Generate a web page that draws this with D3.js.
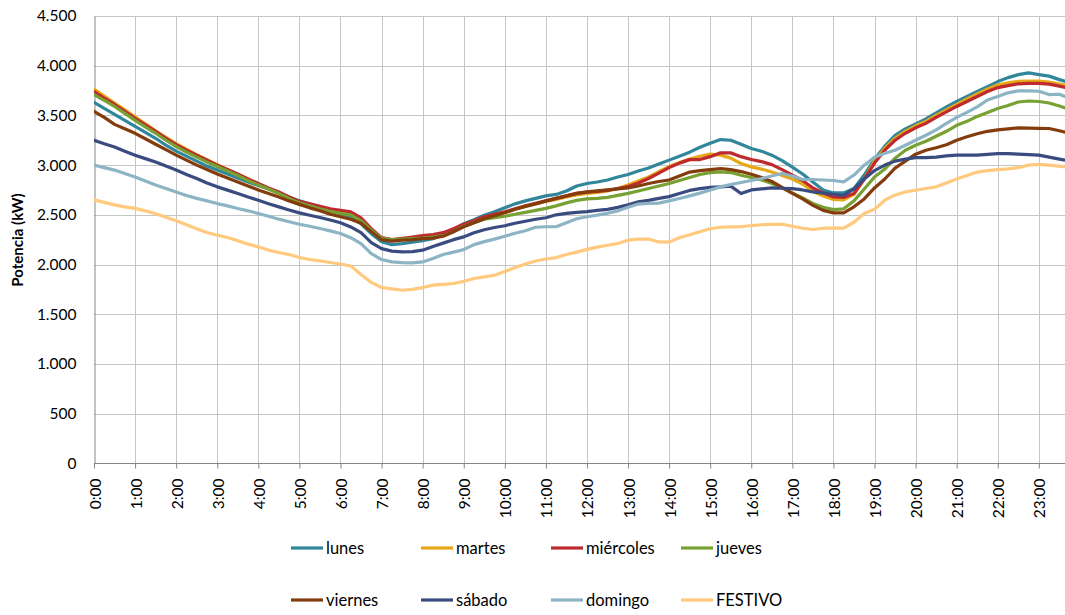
<!DOCTYPE html>
<html>
<head>
<meta charset="utf-8">
<script src="https://cdn.jsdelivr.net/npm/d3@7"></script>
<style>
  html, body { margin: 0; padding: 0; background: #fff; }
  svg { display: block; font-family: Lato, "Open Sans", sans-serif; }
</style>
</head>
<body>
<svg id="chart" width="1065" height="615"></svg>
<script>
// ---- Data (kW, every 15 minutes from 0:00 to 23:45) ----
const seriesNames = ["lunes", "martes", "miércoles", "jueves", "viernes", "sábado", "domingo", "FESTIVO"];
const seriesColors = ["#31869B", "#E6A817", "#BE2A2E", "#77A132", "#843C0C", "#3A4B80", "#8DB4C4", "#FFC97E"];
const hourLabels = ["0:00","1:00","2:00","3:00","4:00","5:00","6:00","7:00","8:00","9:00","10:00","11:00",
  "12:00","13:00","14:00","15:00","16:00","17:00","18:00","19:00","20:00","21:00","22:00","23:00"];
const yTicks = [0, 500, 1000, 1500, 2000, 2500, 3000, 3500, 4000, 4500];

const lunes = [3630,3570,3510,3450,3390,3330,3270,3200,3140,3090,3040,2990,2950,2910,2870,2830,
  2795,2760,2720,2680,2640,2610,2575,2545,2510,2480,2410,2310,2230,2200,2210,2225,
  2240,2260,2300,2350,2410,2450,2495,2530,2570,2610,2640,2665,2690,2705,2740,2790,
  2815,2830,2850,2880,2905,2940,2970,3010,3050,3090,3130,3180,3220,3257,3250,3210,
  3167,3140,3100,3045,2980,2910,2830,2750,2720,2720,2765,2900,3060,3190,3300,3365,
  3415,3465,3525,3585,3640,3690,3740,3790,3840,3880,3910,3928,3910,3895,3860,3830];
const martes = [3765,3695,3625,3555,3485,3415,3345,3280,3215,3160,3105,3055,3005,2955,2905,2860,
  2810,2765,2720,2670,2625,2595,2570,2545,2525,2510,2450,2350,2265,2245,2250,2260,
  2270,2280,2300,2345,2395,2430,2470,2500,2525,2555,2585,2610,2635,2655,2680,2700,
  2715,2725,2740,2765,2800,2840,2880,2935,2985,3025,3060,3089,3110,3100,3070,3016,
  2982,2960,2930,2895,2860,2810,2735,2690,2655,2650,2705,2860,3040,3170,3270,3340,
  3395,3440,3500,3555,3610,3665,3715,3765,3805,3828,3843,3846,3845,3835,3815,3795];
const miercoles = [3740,3675,3610,3540,3470,3405,3340,3270,3205,3150,3100,3050,3000,2955,2910,2860,
  2815,2770,2730,2680,2635,2610,2585,2560,2545,2530,2470,2360,2270,2250,2262,2275,
  2290,2300,2320,2360,2405,2440,2480,2505,2530,2560,2590,2615,2640,2665,2690,2715,
  2728,2735,2745,2765,2785,2820,2865,2920,2975,3020,3055,3056,3085,3123,3123,3085,
  3056,3035,3005,2955,2900,2845,2770,2720,2680,2674,2714,2860,3020,3150,3250,3320,
  3375,3420,3480,3535,3590,3640,3690,3740,3780,3800,3818,3822,3822,3815,3795,3770];
const jueves = [3710,3650,3590,3520,3450,3385,3320,3250,3185,3130,3080,3030,2985,2940,2895,2845,
  2800,2760,2715,2665,2620,2590,2560,2535,2515,2500,2440,2345,2265,2250,2255,2260,
  2265,2275,2290,2330,2385,2420,2455,2470,2485,2505,2525,2545,2565,2590,2620,2645,
  2660,2665,2675,2695,2715,2740,2765,2790,2815,2845,2875,2905,2925,2932,2925,2898,
  2875,2850,2815,2770,2720,2670,2615,2575,2553,2560,2640,2760,2880,2960,3070,3150,
  3200,3240,3290,3340,3400,3440,3490,3530,3570,3600,3635,3645,3640,3625,3595,3560];
const viernes = [3540,3480,3410,3365,3320,3265,3210,3155,3100,3050,3000,2955,2910,2870,2830,2790,
  2750,2715,2680,2640,2605,2570,2540,2505,2480,2455,2415,2330,2250,2235,2245,2250,
  2260,2265,2285,2330,2380,2420,2460,2490,2520,2555,2585,2610,2640,2665,2690,2715,
  2730,2740,2750,2760,2770,2790,2815,2835,2850,2890,2930,2945,2955,2966,2955,2935,
  2908,2875,2835,2775,2715,2660,2595,2545,2519,2519,2580,2660,2770,2860,2970,3040,
  3110,3150,3175,3205,3250,3285,3315,3340,3355,3365,3374,3372,3370,3368,3345,3320];
const sabado = [3250,3215,3183,3140,3100,3065,3032,2990,2950,2905,2865,2820,2781,2748,2714,2680,
  2647,2612,2580,2548,2519,2495,2473,2447,2420,2378,2320,2220,2160,2135,2127,2130,
  2144,2180,2215,2250,2278,2320,2350,2372,2390,2415,2435,2455,2470,2500,2515,2525,
  2532,2545,2555,2575,2600,2630,2645,2665,2683,2715,2745,2764,2775,2781,2788,2714,
  2750,2760,2771,2767,2764,2750,2730,2718,2707,2695,2760,2860,2945,3000,3040,3060,
  3076,3076,3080,3092,3100,3100,3100,3108,3115,3115,3110,3105,3100,3080,3060,3040];
const domingo = [3000,2975,2950,2915,2880,2840,2800,2765,2730,2695,2665,2640,2613,2590,2563,2540,
  2513,2485,2456,2430,2405,2385,2362,2338,2312,2270,2210,2110,2050,2026,2018,2016,
  2026,2060,2100,2125,2150,2200,2230,2255,2285,2315,2340,2375,2380,2380,2420,2460,
  2480,2496,2515,2540,2575,2608,2614,2618,2640,2664,2690,2718,2750,2781,2805,2825,
  2845,2865,2890,2915,2890,2855,2855,2850,2845,2831,2900,2999,3080,3120,3150,3200,
  3250,3300,3355,3420,3480,3530,3586,3655,3690,3727,3747,3747,3743,3710,3713,3670];
const festivo = [2650,2625,2600,2580,2565,2540,2510,2475,2440,2400,2360,2322,2295,2272,2240,2205,
  2177,2145,2121,2100,2070,2050,2036,2020,2005,1985,1900,1820,1769,1755,1741,1750,
  1768,1792,1800,1809,1830,1859,1875,1892,1930,1970,2005,2035,2055,2070,2100,2125,
  2152,2175,2194,2211,2245,2255,2255,2227,2225,2270,2300,2330,2360,2375,2378,2380,
  2392,2400,2403,2405,2385,2365,2352,2365,2365,2365,2425,2513,2555,2647,2700,2730,
  2747,2765,2781,2820,2860,2895,2930,2945,2955,2962,2975,3000,3008,3000,2990,2976];

const seriesValues = [lunes, martes, miercoles, jueves, viernes, sabado, domingo, festivo];
const slotHours = d3.range(96).map(i => i / 4); // 15-minute time slots

// ---- Layout ----
const svg = d3.select("#chart");
const plotLeft = 94, hourStep = 41.08, plotTop = 16, plotBottom = 463.3, plotRight = 1065;

const x = d3.scaleLinear().domain([0, 24]).range([plotLeft, plotLeft + 24 * hourStep]);
const y = d3.scaleLinear().domain([0, 4500]).range([plotBottom, plotTop]);

// clip for plot area (the chart is cut at the right edge)
svg.append("defs").append("clipPath").attr("id", "clip")
  .append("rect").attr("x", plotLeft).attr("y", 0).attr("width", plotRight - plotLeft).attr("height", plotBottom + 1);

// horizontal gridlines
svg.append("g").selectAll("line").data(yTicks.filter(d => d > 0)).join("line")
  .attr("x1", plotLeft).attr("x2", plotRight)
  .attr("y1", d => Math.round(y(d)) + 0.5).attr("y2", d => Math.round(y(d)) + 0.5)
  .attr("stroke", "#c6c6c6").attr("stroke-width", 1);

// vertical gridlines at every hour
svg.append("g").selectAll("line").data(d3.range(1, 24)).join("line")
  .attr("x1", d => Math.round(x(d)) + 0.5).attr("x2", d => Math.round(x(d)) + 0.5)
  .attr("y1", plotTop).attr("y2", plotBottom)
  .attr("stroke", "#c6c6c6").attr("stroke-width", 1);

// y axis
const yAxis = d3.axisLeft(y).tickValues(yTicks).tickSize(0).tickPadding(18)
  .tickFormat(d => d3.format(",")(d).replace(/,/g, "."));
const gy = svg.append("g").attr("transform", `translate(${Math.round(plotLeft) + 0.5},0)`).call(yAxis);
gy.select(".domain").attr("stroke", "#868686");
gy.selectAll("text").attr("font-size", "15.5px").attr("fill", "#000").attr("font-family", "Lato, sans-serif");

// x axis
const xAxis = d3.axisBottom(x).tickValues(d3.range(0, 24)).tickSize(5).tickPadding(0)
  .tickFormat(d => hourLabels[d]);
const gx = svg.append("g").attr("transform", `translate(0,${Math.round(plotBottom) + 0.5})`).call(xAxis);
gx.select(".domain").attr("stroke", "#868686").attr("d", `M${plotLeft},0H${plotRight}`);
gx.selectAll(".tick line").attr("stroke", "#868686");
gx.selectAll("text")
  .attr("font-size", "15.5px").attr("fill", "#000").attr("font-family", "Lato, sans-serif")
  .attr("text-anchor", "end").attr("dy", null).attr("y", 0)
  .attr("dominant-baseline", "central")
  .attr("transform", "translate(0,15) rotate(-90)");

// y axis title
svg.append("text")
  .attr("transform", "translate(17,240) rotate(-90)")
  .attr("text-anchor", "middle").attr("dominant-baseline", "central")
  .attr("font-size", "15px").attr("font-weight", "bold").attr("font-family", "Lato, sans-serif")
  .text("Potencia (kW)");

// lines
const line = d3.line().x((d, i) => x(slotHours[i])).y(d => y(d));
svg.append("g").attr("clip-path", "url(#clip)")
  .selectAll("path").data(seriesValues).join("path")
  .attr("d", d => line(d))
  .attr("fill", "none")
  .attr("stroke", (d, i) => seriesColors[i])
  .attr("stroke-width", 3.2)
  .attr("stroke-linejoin", "round")
  .attr("stroke-linecap", "round");

// legend
const legendCols = [291, 421, 551, 681];
const legendRows = [548, 600];
const lg = svg.append("g").selectAll("g").data(seriesNames).join("g")
  .attr("transform", (d, i) => `translate(${legendCols[i % 4]},${legendRows[Math.floor(i / 4)]})`);
lg.append("line").attr("x1", 0).attr("x2", 32).attr("y1", 0).attr("y2", 0)
  .attr("stroke", (d, i) => seriesColors[i]).attr("stroke-width", 3.2);
lg.append("text").attr("x", 35).attr("y", 0).attr("dominant-baseline", "central")
  .attr("font-size", "16.5px").attr("font-family", "Lato, sans-serif").attr("fill", "#000")
  .text(d => d);
</script>
</body>
</html>
